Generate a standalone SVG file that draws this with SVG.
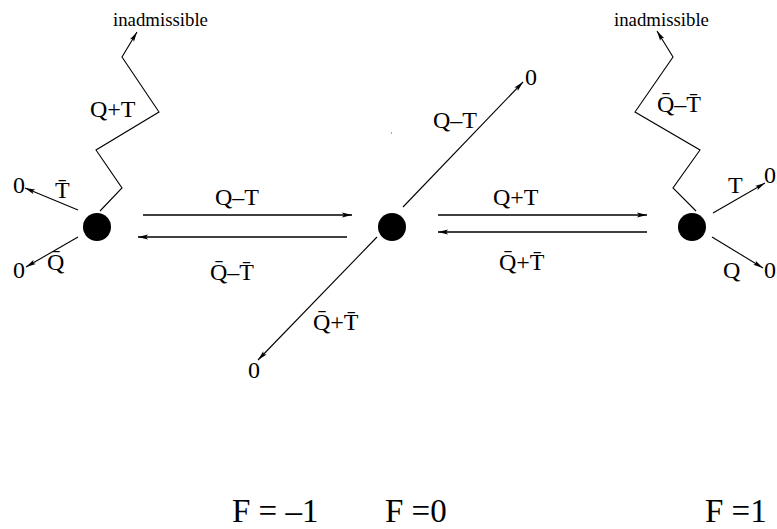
<svg xmlns="http://www.w3.org/2000/svg" width="777" height="529" viewBox="0 0 777 529">
<style>
text{font-family:"Liberation Serif","Times New Roman",serif;fill:#000}
.lbl{font-size:24px}
.sm{font-size:18.8px}
.big{font-size:33px}
.ln{fill:none;stroke:#000;stroke-width:1.1}
.hz{fill:none;stroke:#000;stroke-width:1.4}
.node{fill:#000}
</style>
<defs>
<marker id="ah" viewBox="0 0 10 6" refX="10" refY="3" markerWidth="10" markerHeight="6" markerUnits="userSpaceOnUse" orient="auto">
<path d="M0,0.6 L10,3 L0,5.4 L2,3 Z" fill="#000"/>
</marker>
</defs>
<rect width="777" height="529" fill="#fff"/>
<g id="connectors">
<polyline class="ln" points="100,211 122,188 96,150 159,112 122,57 137,32" marker-end="url(#ah)"/>
<line class="ln" x1="78" y1="210" x2="25" y2="188" marker-end="url(#ah)"/>
<line class="ln" x1="78" y1="237" x2="26" y2="267" marker-end="url(#ah)"/>
<line class="hz" x1="143" y1="215" x2="352" y2="215" marker-end="url(#ah)"/>
<line class="hz" x1="347" y1="237" x2="138" y2="237" marker-end="url(#ah)"/>
<line class="ln" x1="403" y1="207" x2="523" y2="82" marker-end="url(#ah)"/>
<line class="ln" x1="377" y1="237" x2="258" y2="360" marker-end="url(#ah)"/>
<line class="hz" x1="438" y1="215" x2="647" y2="215" marker-end="url(#ah)"/>
<line class="hz" x1="647" y1="232" x2="438" y2="232" marker-end="url(#ah)"/>
<polyline class="ln" points="696,211 673,188 700,150 635,112 673,57 657,31" marker-end="url(#ah)"/>
<line class="ln" x1="713" y1="213" x2="765" y2="183" marker-end="url(#ah)"/>
<line class="ln" x1="712" y1="237" x2="763" y2="268" marker-end="url(#ah)"/>
</g>
<g id="node-left"><circle class="node" cx="97" cy="227" r="14"/></g>
<g id="node-center"><circle class="node" cx="392" cy="227" r="14"/></g>
<g id="node-right"><circle class="node" cx="692" cy="227" r="14"/></g>
<rect x="391" y="132" width="1" height="2" fill="#aaa"/>
<g id="labels">
<text class="sm" x="113" y="26">inadmissible</text>
<text class="sm" x="614" y="26">inadmissible</text>
<text class="lbl" x="90" y="117">Q+T</text>
<text class="lbl" x="13" y="193">0</text>
<text class="lbl" x="55" y="198">T̄</text>
<text class="lbl" x="13" y="278">0</text>
<text class="lbl" x="47" y="270">Q̄</text>
<text class="lbl" x="215" y="205">Q–T</text>
<text class="lbl" x="210" y="280">Q̄–T̄</text>
<text class="lbl" x="525" y="85">0</text>
<text class="lbl" x="433" y="128">Q–T</text>
<text class="lbl" x="313" y="330">Q̄+T̄</text>
<text class="lbl" x="248" y="378">0</text>
<text class="lbl" x="493" y="205">Q+T</text>
<text class="lbl" x="499" y="270">Q̄+T̄</text>
<text class="lbl" x="657" y="112">Q̄–T̄</text>
<text class="lbl" x="728" y="193">T</text>
<text class="lbl" x="764" y="183">0</text>
<text class="lbl" x="723" y="278">Q</text>
<text class="lbl" x="764" y="278">0</text>
<text class="big" x="232" y="522">F = –1</text>
<text class="big" x="385" y="522">F =0</text>
<text class="big" x="705" y="522">F =1</text>
</g>
</svg>
